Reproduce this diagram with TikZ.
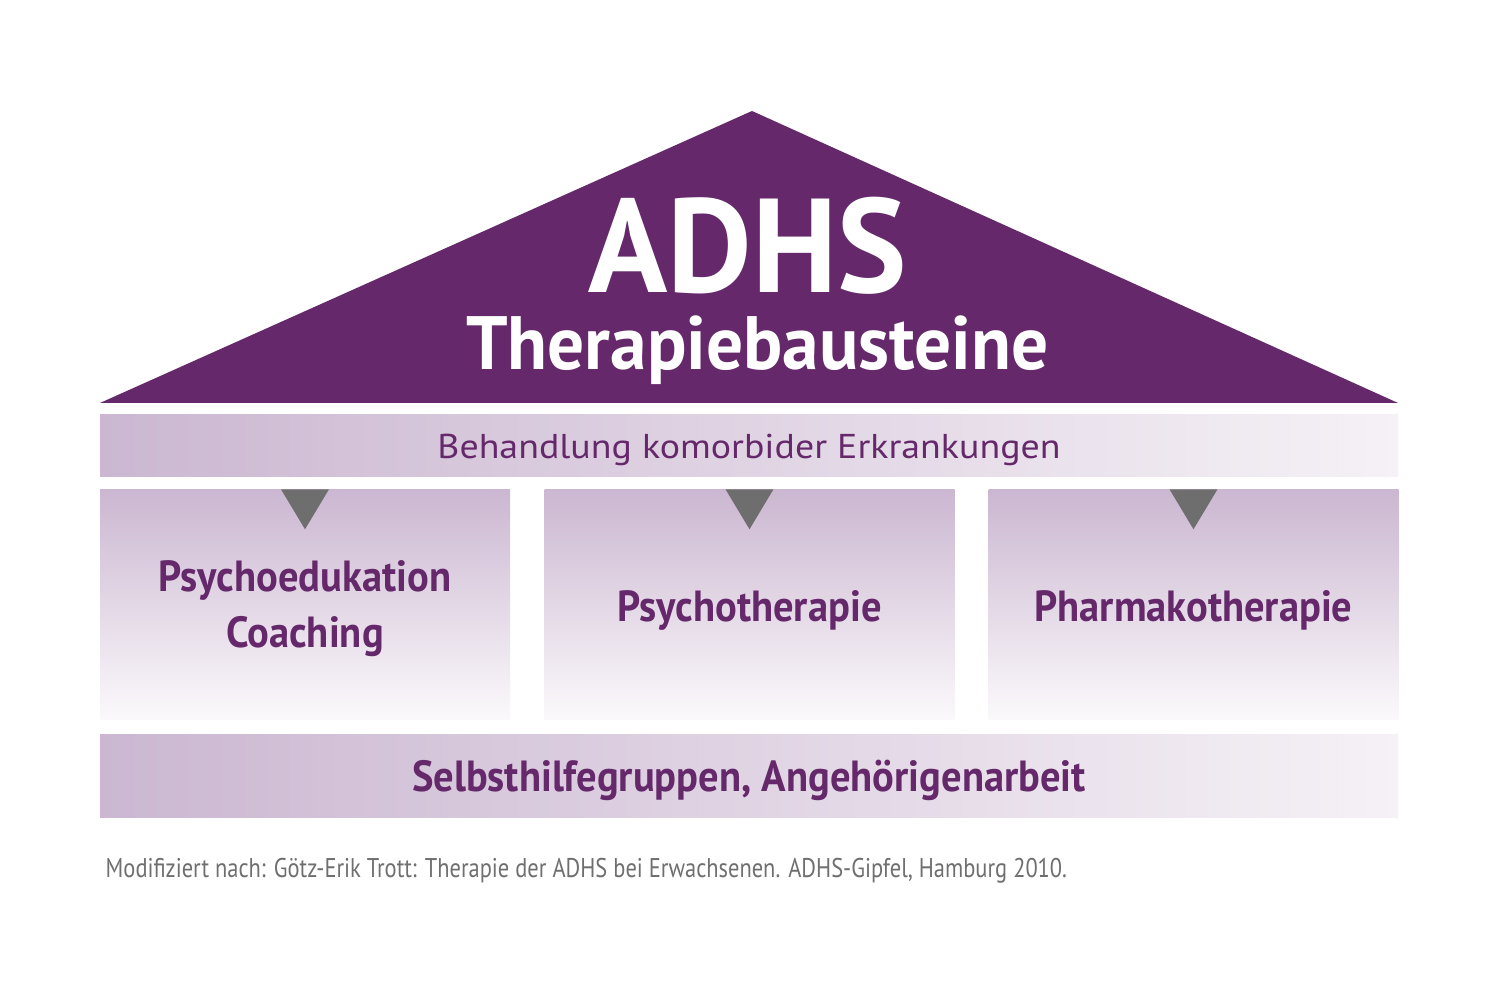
\documentclass[tikz,border=0pt]{standalone}
\usepackage{fontspec}
\usetikzlibrary{calc}
\setmainfont{PT Sans}
\newfontfamily\titlefont[FakeStretch=0.98]{PT Sans}
\newfontfamily\subtitlefont[FakeStretch=0.97]{PT Sans}
\newfontfamily\condfont[FakeStretch=0.93]{PT Sans}
\newfontfamily\widefont[FakeStretch=1.10]{PT Sans}
\newfontfamily\capfont[FakeStretch=0.83]{PT Sans}
\definecolor{roofpurple}{HTML}{65296B}
\definecolor{txtpurple}{HTML}{65296B}
\definecolor{lilacdark}{HTML}{CBB7D1}
\definecolor{lilaclight}{HTML}{F5F1F6}
\definecolor{pillarbottom}{HTML}{FBF9FB}
\definecolor{arrowgray}{HTML}{6E6E6E}
\definecolor{capgray}{HTML}{6F6F6F}
\tikzset{
  band/.style={shade, left color=lilacdark, right color=lilaclight, draw=none,
    minimum width=12.98cm, inner sep=0pt, text=txtpurple, align=center},
  pillar/.style={shade, top color=lilacdark, bottom color=pillarbottom, draw=none,
    minimum width=4.10cm, minimum height=2.30cm, inner sep=0pt},
  ptext/.style={anchor=base, inner sep=0pt, text=txtpurple,
    font=\condfont\bfseries\fontsize{12.4}{15}\selectfont},
  marker/.style={fill=arrowgray, draw=none},
}
\begin{document}
\begin{tikzpicture}
\useasboundingbox (0,0) rectangle (15,10);
\fill[white] (0,0) rectangle (15,10);
% roof
\coordinate (rl) at (1.00,5.97);
\coordinate (rt) at (7.52,8.89);
\coordinate (rr) at (13.98,5.97);
\fill[roofpurple] (rl) -- (rt) -- (rr) -- cycle;
\node[anchor=base, text=white, font=\titlefont\bfseries\fontsize{38}{40}\selectfont, inner sep=0pt, text depth=0pt] (adhs) at (7.475,7.07) {ADHS};
\node[anchor=base, text=white, font=\subtitlefont\bfseries\fontsize{21.5}{24}\selectfont, inner sep=0pt, text height=15pt] (thb) at (7.575,6.30) {Therapiebausteine};
% band
\node[band, minimum height=0.62cm, font=\widefont\fontsize{9.8}{12}\selectfont, text height=6.9pt, text depth=0pt] (band) at (7.49,5.54) {Behandlung komorbider Erkrankungen};
% pillars
\node[pillar] (p1) at (3.05,3.95) {};
\node[pillar] (p2) at (7.495,3.95) {};
\node[pillar] (p3) at (11.935,3.95) {};
\foreach \p in {p1,p2,p3}{
  \fill[marker] ($(\p.north)+(-0.24,0)$) -- ($(\p.north)+(0.24,0)$) -- ($(\p.north)+(0,-0.40)$) -- cycle;
}
\node[ptext] (t1a) at ($(p1.center)+(0,0.13)$) {Psychoedukation};
\node[ptext] (t1b) at ($(p1.center)+(0,-0.43)$) {Coaching};
\node[ptext] (t2) at ($(p2.center)+(0,-0.17)$) {Psychotherapie};
\node[ptext] (t3) at ($(p3.center)+(0,-0.17)$) {Pharmakotherapie};
% bottom band
\node[band, minimum height=0.83cm, font=\condfont\bfseries\fontsize{12.4}{15}\selectfont, text height=8.6pt, text depth=0pt] (base) at (7.49,2.235) {Selbsthilfegruppen, Angehörigenarbeit};
% caption
\node[anchor=base west, inner sep=0pt, text=capgray, font=\capfont\fontsize{7.7}{10}\selectfont] (cap) at (1.05,1.22) {Modifiziert nach: Götz-Erik Trott: Therapie der ADHS bei Erwachsenen. ADHS-Gipfel, Hamburg 2010.};
\end{tikzpicture}
\end{document}
